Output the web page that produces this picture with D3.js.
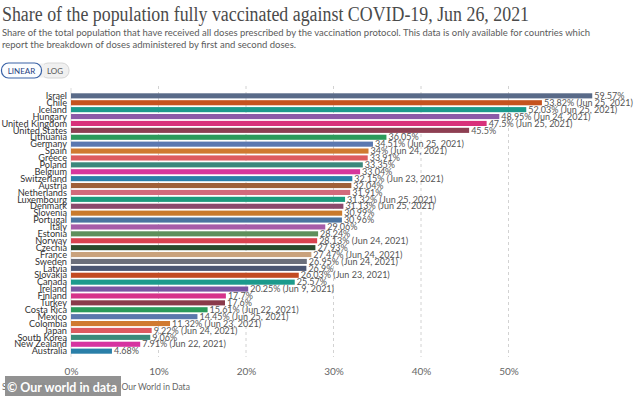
<!DOCTYPE html>
<html>
<head>
<meta charset="utf-8">
<script src="https://cdnjs.cloudflare.com/ajax/libs/d3/7.8.5/d3.min.js"></script>
<style>
  body { margin: 0; background: #fff; }
  svg { display: block; font-family: Lato, "Open Sans", sans-serif; }
</style>
</head>
<body>
<div id="chart"></div>
<script>
// data
const countries = ["Israel", "Chile", "Iceland", "Hungary", "United Kingdom", "United States", "Lithuania",
    "Germany", "Spain", "Greece", "Poland", "Belgium", "Switzerland", "Austria", "Netherlands", "Luxembourg",
    "Denmark", "Slovenia", "Portugal", "Italy", "Estonia", "Norway", "Czechia", "France", "Sweden", "Latvia",
    "Slovakia", "Canada", "Ireland", "Finland", "Turkey", "Costa Rica", "Mexico", "Colombia", "Japan",
    "South Korea", "New Zealand", "Australia"];
const shares = [59.57, 53.82, 52.03, 48.95, 47.5, 45.5, 36.05, 34.51, 34, 33.91, 33.35, 33.04, 32.15, 32.04,
    31.91, 31.32, 31.13, 30.99, 30.96, 29.06, 28.24, 28.13, 27.93, 27.47, 26.95, 26.9, 26.03, 25.57, 20.25,
    17.7, 17.6, 15.61, 14.45, 11.32, 9.22, 9.06, 7.91, 4.68];
const dates = ["", "Jun 25, 2021", "Jun 25, 2021", "Jun 24, 2021", "Jun 25, 2021", "", "", "Jun 25, 2021",
    "Jun 24, 2021", "", "", "", "Jun 23, 2021", "", "", "Jun 25, 2021", "Jun 25, 2021", "", "", "", "",
    "Jun 24, 2021", "", "Jun 24, 2021", "Jun 24, 2021", "", "Jun 23, 2021", "", "Jun 9, 2021", "", "",
    "Jun 22, 2021", "Jun 25, 2021", "Jun 23, 2021", "Jun 24, 2021", "", "Jun 22, 2021", ""];
const xTicks = [0, 10, 20, 30, 40, 50];

const palette = ["#596a88", "#c5531f", "#1c9a8c", "#8b5aa8", "#d8317a", "#8e3f52", "#2c9a5a", "#5b78b0",
    "#cf7a30", "#dd5b5f", "#3c877c", "#d6369c", "#2a7ea8", "#9f6038", "#d26a7c", "#1c9a7c", "#8a4a6c",
    "#c97a2c", "#4a74a0", "#a65ca8", "#5e8f5c", "#d9424f", "#2a4a2c", "#c9a27c", "#6b6f7b", "#4b5672",
    "#c24b22", "#1c9a8c", "#7a55a2", "#d6338a", "#8a3a4a", "#2a9a5a", "#5a78ac", "#d07a30", "#dd5a60",
    "#3a8a7a", "#d633a0", "#2a7fa8"];

const data = countries.map((c, i) => ({country: c, value: shares[i], date: dates[i]}));

const W = 634, H = 396;
const svg = d3.select("#chart").append("svg").attr("width", W).attr("height", H);

// header
svg.append("text")
    .attr("x", 2).attr("y", 21)
    .attr("font-family", "'Liberation Serif', 'DejaVu Serif', serif")
    .attr("font-size", 20)
    .attr("fill", "#4a4a4a")
    .attr("textLength", 527).attr("lengthAdjust", "spacingAndGlyphs")
    .text("Share of the population fully vaccinated against COVID-19, Jun 26, 2021");

const sub = [
    ["Share of the total population that have received all doses prescribed by the vaccination protocol. This data is only available for countries which", 588],
    ["report the breakdown of doses administered by first and second doses.", 294]
];
sub.forEach((s, i) => {
    svg.append("text")
        .attr("x", 2).attr("y", 36 + i * 12)
        .attr("font-size", 9)
        .attr("fill", "#5b5b5b")
        .attr("textLength", s[1]).attr("lengthAdjust", "spacingAndGlyphs")
        .text(s[0]);
});

// LINEAR / LOG toggle
svg.append("rect").attr("x", 41).attr("y", 63).attr("width", 28).attr("height", 15).attr("rx", 7)
    .attr("fill", "#f0f0f0").attr("stroke", "#d6d6d6");
svg.append("rect").attr("x", 34).attr("y", 63.5).attr("width", 10).attr("height", 14).attr("fill", "#f0f0f0");
svg.append("rect").attr("x", 1.5).attr("y", 63).attr("width", 40).attr("height", 15).attr("rx", 7)
    .attr("fill", "#fbfdff").attr("stroke", "#3a62a6").attr("stroke-width", 1.2);
svg.append("text").attr("x", 21.5).attr("y", 74).attr("text-anchor", "middle")
    .attr("font-size", 8).attr("fill", "#1f3f80").text("LINEAR");
svg.append("text").attr("x", 55).attr("y", 74).attr("text-anchor", "middle")
    .attr("font-size", 8).attr("fill", "#555").text("LOG");

// scales
const x = d3.scaleLinear().domain([0, 60]).range([71, 596]);
const y = d3.scaleBand().domain(countries).range([91.5, 355.5]).padding(0.26);
const color = d3.scaleOrdinal().domain(countries).range(palette);

// grid
svg.append("g").selectAll("line")
    .data(xTicks.slice(1))
    .join("line")
    .attr("x1", d => x(d)).attr("x2", d => x(d))
    .attr("y1", 86).attr("y2", 357)
    .attr("stroke", "#d2d2d2").attr("stroke-dasharray", "3,3");

svg.append("line")
    .attr("x1", x(0)).attr("x2", x(0)).attr("y1", 88).attr("y2", 357)
    .attr("stroke", "#dcdcdc");

// x axis labels
const axis = svg.append("g")
    .attr("transform", "translate(0,360)")
    .call(d3.axisBottom(x).tickValues(xTicks).tickFormat(d => d + "%").tickSize(0).tickPadding(8));
axis.select(".domain").remove();
axis.selectAll("text").attr("font-size", 10).attr("fill", "#666").attr("font-family", "Lato, sans-serif");

// bars
svg.append("g").selectAll("rect")
    .data(data)
    .join("rect")
    .attr("x", x(0))
    .attr("y", d => y(d.country))
    .attr("width", d => x(d.value) - x(0))
    .attr("height", y.bandwidth())
    .attr("fill", d => color(d.country));

// country names
svg.append("g").selectAll("text")
    .data(data)
    .join("text")
    .attr("x", 67)
    .attr("y", d => y(d.country) + y.bandwidth() / 2 + 3.2)
    .attr("text-anchor", "end")
    .attr("font-size", 9.2)
    .attr("fill", "#333")
    .text(d => d.country);

// value labels
svg.append("g").selectAll("text")
    .data(data)
    .join("text")
    .attr("x", d => x(d.value) + 2)
    .attr("y", d => y(d.country) + y.bandwidth() / 2 + 3.2)
    .attr("font-size", 9)
    .attr("fill", "#555")
    .text(d => d.value + "%" + (d.date ? " (" + d.date + ")" : ""));

// footer + watermark
svg.append("text").attr("x", 2).attr("y", 390)
    .attr("font-size", 8.5).attr("fill", "#666")
    .text("Source: Official data collated by Our World in Data");
svg.append("rect").attr("x", 5).attr("y", 376).attr("width", 116).attr("height", 20)
    .attr("fill", "#8c8c8c").attr("opacity", 0.95);
svg.append("text").attr("x", 7).attr("y", 392)
    .attr("font-size", 14).attr("font-weight", "bold").attr("fill", "#fff")
    .attr("textLength", 110).attr("lengthAdjust", "spacingAndGlyphs")
    .text("© Our world in data");
</script>
</body>
</html>
